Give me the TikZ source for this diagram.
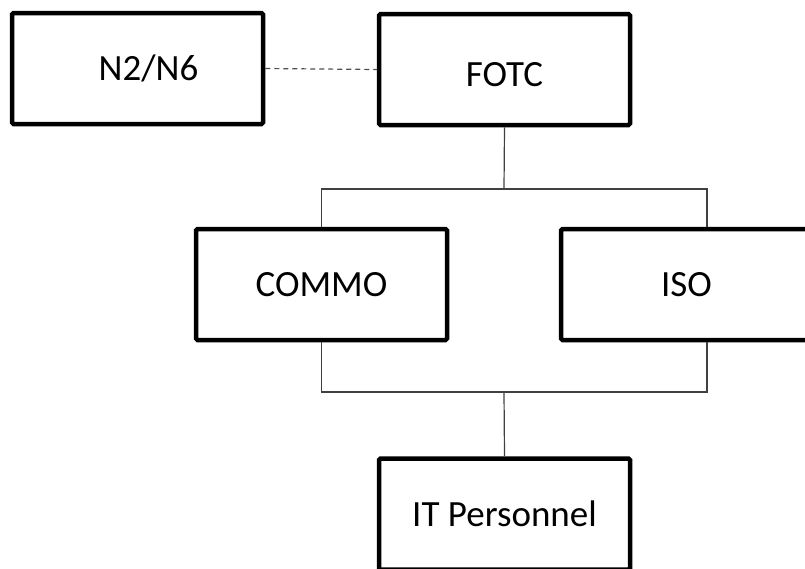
\documentclass[tikz,border=0pt]{standalone}
\usepackage{fontspec}
\setmainfont{Carlito}
\usepackage{tikz}
\usetikzlibrary{positioning}
\tikzstyle{every unit} = [minimum width=251pt, minimum height=111pt]
\tikzstyle{unit} = [draw, line width=4.5pt, rounded corners=1.5pt, inner sep=0pt, font=\fontsize{37}{44}\selectfont, text=black, every unit]
\tikzstyle{link} = [draw, line width=1.2pt, color=black!75]
\definecolor{dashgrey}{RGB}{80,80,80}
\tikzstyle{staff link} = [draw, line width=1.2pt, color=dashgrey, dash pattern=on 5pt off 4pt]

\begin{document}
\begin{tikzpicture}[x=1pt, y=-1pt]
                    \useasboundingbox (0,0) rectangle (805,568);
                    \clip (0,0) rectangle (805,568);
                    \node[unit] (nseis) at (137.5,68.5) {\hspace*{22pt}N2/N6};
                    \node[unit, text height=34pt] (fotc) at (504.5,69.5) {FOTC};
                    \node[unit] (commo) at (321.5,284.5) {COMMO};
                    \node[unit] (iso) at (686.5,284.5) {ISO};
                    \node[unit] (itpers) at (504.5,514) {IT Personnel};

                    \coordinate (topbus) at (504,189);
                    \coordinate (isotop) at (707,189);
                    \coordinate (lowbus) at (504,392);
                    \coordinate (isolow) at (707,392);

                    \draw[staff link] (nseis.east) -- (fotc.west);
                    \draw[link] (fotc.south) -- (topbus);
                    \draw[link] (commo.north) |- (isotop) -- (isotop |- iso.north);
                    \draw[link] (commo.south) |- (isolow) -- (isolow |- iso.south);
                    \draw[link] (lowbus) -- (itpers.north);
                \end{tikzpicture}
\end{document}
